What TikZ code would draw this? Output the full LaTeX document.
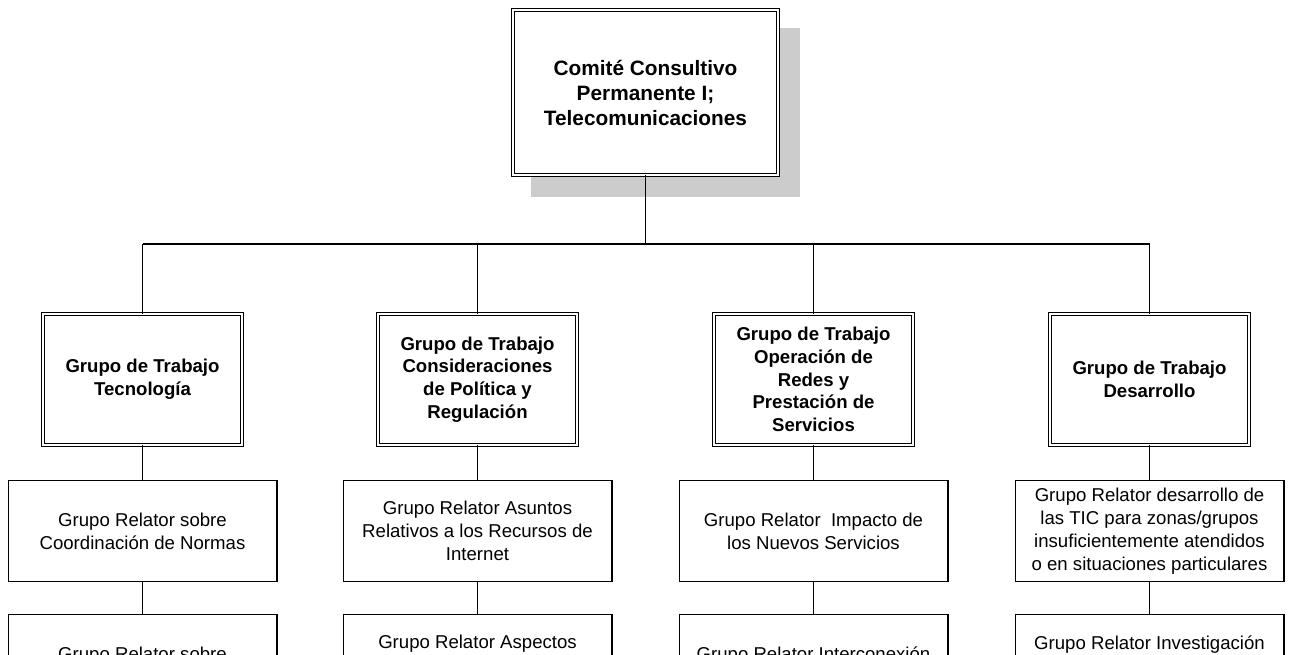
\documentclass[tikz,border=0pt]{standalone}
\usepackage{fontspec}
\setmainfont{Liberation Sans}
\begin{document}
\begin{tikzpicture}[x=1pt,y=-1pt,
  base/.style={draw=black,fill=white,inner sep=0pt,outer sep=0pt,align=center,text=black},
  topbox/.style={base,double,line width=1.3pt,double distance=1.6pt,
    minimum width=264.8pt,minimum height=164.8pt,
    font=\fontsize{20.8}{25}\selectfont\bfseries},
  shadowbox/.style={fill=black!20,draw=none,inner sep=0pt,outer sep=0pt,
    minimum width=269pt,minimum height=169pt},
  wgbox/.style={base,double,line width=1.3pt,double distance=1.6pt,
    minimum width=198.8pt,minimum height=130.8pt,
    font=\fontsize{18.6}{22.6}\selectfont\bfseries},
  relbox/.style={base,line width=1.3pt,
    minimum width=268.7pt,minimum height=100.7pt,
    font=\fontsize{18.6}{22.8}\selectfont},
  conn/.style={draw=black,line width=1.4pt}
]
\useasboundingbox (0,0) rectangle (1293,655);
\clip (0,0) rectangle (1293,655);
\fill[white] (0,0) rectangle (1293,655);

% top
\node[shadowbox] (shadow) at (665.5,112.5) {};
\node[topbox] (top) at (645.5,92.5) {Comité Consultivo\\Permanente I;\\Telecomunicaciones};

% junctions
\coordinate (hub) at (645.5,244);
\coordinate (j1) at (142.5,244);
\coordinate (j2) at (477.5,244);
\coordinate (j3) at (813.5,244);
\coordinate (j4) at (1149.5,244);

% working groups
\node[wgbox] (g1) at (142.5,379.5) {Grupo de Trabajo\\Tecnología};
\node[wgbox] (g2) at (477.5,379.5) {Grupo de Trabajo\\Consideraciones\\de Política y\\Regulación};
\node[wgbox] (g3) at (813.5,379.5) {Grupo de Trabajo\\Operación de\\Redes y\\Prestación de\\Servicios};
\node[wgbox] (g4) at (1149.5,379.5) {Grupo de Trabajo\\Desarrollo};

% rapporteur groups, first row
\node[relbox] (r1) at (142.5,531) {Grupo Relator sobre\\Coordinación de Normas};
\node[relbox] (r2) at (477.5,531) {Grupo Relator Asuntos\\Relativos a los Recursos de\\Internet};
\node[relbox] (r3) at (813.5,531) {Grupo Relator\ \ Impacto de\\los Nuevos Servicios};
\node[relbox] (r4) at (1149.5,531) {Grupo Relator desarrollo de\\las TIC para zonas/grupos\\insuficientemente atendidos\\o en situaciones particulares};

% rapporteur groups, second row (cut by the page edge)
\node[relbox] (s1) at (142.5,665) {Grupo Relator sobre\\\mbox{}};
\node[relbox] (s2) at (477.5,665) {Grupo Relator Aspectos\\\mbox{}\\\mbox{}};
\node[relbox] (s3) at (813.5,665) {Grupo Relator Interconexión\\\mbox{}};
\node[relbox] (s4) at (1149.5,665) {Grupo Relator Investigación\\\mbox{}\\\mbox{}};

% connectors
\draw[conn] (top.south) -- (hub);
\draw[conn] (j1) -- (j4);
\draw[conn] (j1) -- (g1.north);
\draw[conn] (j2) -- (g2.north);
\draw[conn] (j3) -- (g3.north);
\draw[conn] (j4) -- (g4.north);
\draw[conn] (g1.south) -- (r1.north);
\draw[conn] (g2.south) -- (r2.north);
\draw[conn] (g3.south) -- (r3.north);
\draw[conn] (g4.south) -- (r4.north);
\draw[conn] (r1.south) -- (s1.north);
\draw[conn] (r2.south) -- (s2.north);
\draw[conn] (r3.south) -- (s3.north);
\draw[conn] (r4.south) -- (s4.north);
\end{tikzpicture}
\end{document}
